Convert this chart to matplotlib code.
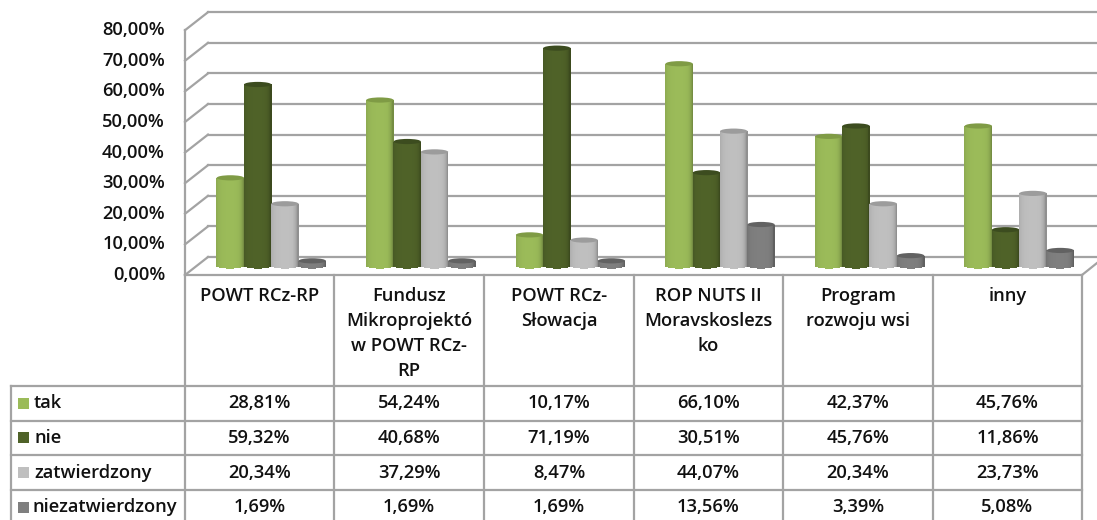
import numpy as np
import matplotlib
matplotlib.use('Agg')
import matplotlib.pyplot as plt
from matplotlib.colors import to_rgb
from matplotlib.patches import Ellipse, Rectangle

plt.rcParams['font.family'] = ['Open Sans', 'DejaVu Sans']

categories = ['POWT RCz-RP', 'Fundusz\nMikroprojektó\nw POWT RCz-\nRP', 'POWT RCz-\nSłowacja',
              'ROP NUTS II\nMoravskoslezs\nko', 'Program\nrozwoju wsi', 'inny']
series_names = ['tak', 'nie', 'zatwierdzony', 'niezatwierdzony']
tak = [28.81, 54.24, 10.17, 66.10, 42.37, 45.76]
nie = [59.32, 40.68, 71.19, 30.51, 45.76, 11.86]
zatwierdzony = [20.34, 37.29, 8.47, 44.07, 20.34, 23.73]
niezatwierdzony = [1.69, 1.69, 1.69, 13.56, 3.39, 5.08]
series = [tak, nie, zatwierdzony, niezatwierdzony]
colors = ['#9bbb59', '#4f6228', '#bfbfbf', '#7f7f7f']
cap_colors = ['#7f9b45', '#3c4c1f', '#9c9c9c', '#626262']
y_ticks = [0, 10, 20, 30, 40, 50, 60, 70, 80]


def pct(v):
    return f'{v:.2f}'.replace('.', ',') + '%'


W, H = 1097, 520
PX = 3.06  # pixels per percent
LINE = '#a3a3a3'
TEXT = '#111111'
FS = 13.2

fig = plt.figure(figsize=(W / 100, H / 100), dpi=100)

# frame, grid and table are laid out in pixels
bg = fig.add_axes([0, 0, 1, 1])
bg.set_xlim(0, W)
bg.set_ylim(H, 0)
bg.axis('off')

for v in y_ticks:
    yf = 275 - v * PX
    yb = 257 - v * PX
    bg.plot([208, W], [yb, yb], color=LINE, lw=1.6, zorder=1)
    bg.plot([185, 208], [yf, yb], color=LINE, lw=1.6, zorder=1)
    bg.text(165, yf, pct(v), ha='right', va='center', fontsize=FS, color=TEXT, weight='semibold')
bg.plot([185, 185], [275 - 80 * PX, 275], color=LINE, lw=1.6, zorder=1)
bg.plot([1082, W], [275, 263], color=LINE, lw=1.6, zorder=1)

col_x = [185, 334, 484, 634, 783, 933, 1082]
row_y = [275, 386, 420.5, 455, 490, 524]  # last one falls below the picture
for x in col_x:
    bg.plot([x, x], [275, 524], color=LINE, lw=1.6, zorder=2)
bg.plot([185, 1082], [275, 275], color=LINE, lw=1.6, zorder=2)
for y in row_y[1:]:
    bg.plot([11, 1082], [y, y], color=LINE, lw=1.6, zorder=2)
bg.plot([11, 11], [386, 524], color=LINE, lw=1.6, zorder=2)

for i, name in enumerate(categories):
    cx = (col_x[i] + col_x[i + 1]) / 2
    bg.text(cx, 287, name, ha='center', va='top', fontsize=FS, color=TEXT,
            linespacing=1.51, weight='semibold')

for r, name in enumerate(series_names):
    cy = (row_y[r + 1] + row_y[r + 2]) / 2
    bg.add_patch(Rectangle((18, cy - 5.5), 11, 11, color=colors[r], lw=0, zorder=3))
    x_name = 32 if r == 3 else 34
    bg.text(x_name, cy, name, ha='left', va='center', fontsize=FS, color=TEXT, weight='semibold')
    for i, v in enumerate(series[r]):
        cx = (col_x[i] + col_x[i + 1]) / 2
        bg.text(cx, cy, pct(v), ha='center', va='center', fontsize=FS, color=TEXT, weight='semibold')

# cylinders on real value axes: y=0 at pixel 266, one category = 149.6 px
x0, base = 196.5, 266
ax = fig.add_axes([x0 / W, (H - base) / H, 6 * 149.6 / W, 80 * PX / H])
ax.set_xlim(0, 6)
ax.set_ylim(0, 80)
ax.axis('off')
ax.patch.set_alpha(0)

bar_w = 27.3 / 149.6
ry = 2.6 / PX
n_slices = 28
t = np.linspace(-1, 1, n_slices, endpoint=False) + 1 / n_slices
shade = 1 - 0.04 * np.abs(t) ** 2 - 0.26 * np.clip(t, 0, 1) ** 6 - 0.06 * np.clip(-t, 0, 1) ** 6

for i in range(6):
    for r in range(4):
        v = series[r][i]
        xc = i + 0.5 + (r - 1.5) * bar_w
        base_rgb = np.array(to_rgb(colors[r]))
        xs = xc + t * bar_w / 2
        under = ry * np.sqrt(1 - t ** 2)
        slice_colors = [tuple(base_rgb * s) for s in shade]
        # slices overlap a little so no white seams show through
        ax.bar(xs, v + under, bottom=-under, width=1.5 * bar_w / n_slices, color=slice_colors,
               linewidth=0, clip_on=False, zorder=3 + r)
        ax.add_patch(Ellipse((xc, v), bar_w, 2 * ry, facecolor=cap_colors[r], edgecolor='none',
                             clip_on=False, zorder=3 + r))

fig.savefig('out.png', dpi=100)
